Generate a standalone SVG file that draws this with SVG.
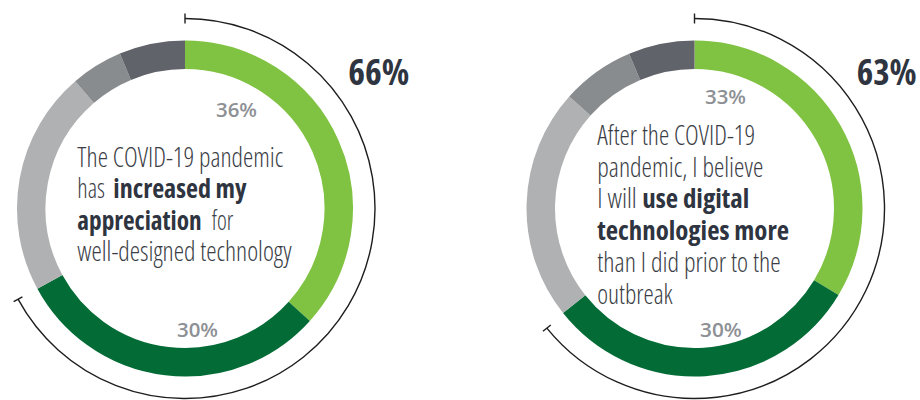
<svg xmlns="http://www.w3.org/2000/svg" width="920" height="400" viewBox="0 0 920 400">
<style>
.seg{fill:none;stroke-width:28.5}
.g1{stroke:#80c242}.g2{stroke:#036b35}.s1{stroke:#afb1b2}.s2{stroke:#898c8f}.s3{stroke:#60636a}
.br{fill:none;stroke:#1e1e1e;stroke-width:1.4}
.t{font-family:"Open Sans","Liberation Sans",sans-serif;font-size:27px;fill:#3b3e46;font-weight:300;font-stretch:condensed}
.b{font-weight:700;fill:#2e3440}
.p{font-family:"Open Sans","Liberation Sans",sans-serif;font-size:20px;font-weight:600;fill:#8d9094}
.big{font-family:"Open Sans","Liberation Sans",sans-serif;font-size:36px;font-weight:700;fill:#2f3540;font-stretch:condensed}
</style>
<rect width="920" height="400" fill="#ffffff"/>
<g id="donut-left">
<path class="seg g1" d="M185 54.75 A153.75 153.75 0 0 1 299.25 311.38"/>
<path class="seg g2" d="M299.25 311.38 A153.75 153.75 0 0 1 49.88 281.87"/>
<path class="seg s1" d="M49.88 281.87 A153.75 153.75 0 0 1 84.54 92.11"/>
<path class="seg s2" d="M84.54 92.11 A153.75 153.75 0 0 1 125.42 66.76"/>
<path class="seg s3" d="M125.42 66.76 A153.75 153.75 0 0 1 185 54.75"/>
<text class="p" x="216" y="116.5" textLength="41" lengthAdjust="spacingAndGlyphs">36%</text>
<text class="p" x="177" y="336.5" textLength="41" lengthAdjust="spacingAndGlyphs">30%</text>
<text class="t"><tspan x="77.3" y="166.5" textLength="206" lengthAdjust="spacingAndGlyphs">The COVID-19 pandemic</tspan><tspan x="77.3" y="198" textLength="27.7" lengthAdjust="spacingAndGlyphs">has</tspan><tspan class="b" x="113.3" y="198" textLength="133.4" lengthAdjust="spacingAndGlyphs">increased my</tspan><tspan class="b" x="77.3" y="229.5" textLength="124.4" lengthAdjust="spacingAndGlyphs">appreciation</tspan><tspan x="211.7" y="229.5" textLength="21.6" lengthAdjust="spacingAndGlyphs">for</tspan><tspan x="77.3" y="261" textLength="214.4" lengthAdjust="spacingAndGlyphs">well-designed technology</tspan></text>
</g>
<g id="label-left">
<text class="big" x="348.3" y="85" textLength="61" lengthAdjust="spacingAndGlyphs">66%</text>
</g>
<g id="donut-right">
<path class="seg g1" d="M694.5 54.75 A153.75 153.75 0 0 1 826.29 287.69"/>
<path class="seg g2" d="M826.29 287.69 A153.75 153.75 0 0 1 574.18 304.21"/>
<path class="seg s1" d="M574.18 304.21 A153.75 153.75 0 0 1 579.88 106.03"/>
<path class="seg s2" d="M579.88 106.03 A153.75 153.75 0 0 1 634.67 66.87"/>
<path class="seg s3" d="M634.67 66.87 A153.75 153.75 0 0 1 694.5 54.75"/>
<text class="p" x="705" y="104" textLength="41" lengthAdjust="spacingAndGlyphs">33%</text>
<text class="p" x="700" y="336.5" textLength="41.7" lengthAdjust="spacingAndGlyphs">30%</text>
<text class="t"><tspan x="597.3" y="145" textLength="157.7" lengthAdjust="spacingAndGlyphs">After the COVID-19</tspan><tspan x="597.3" y="176.7" textLength="166" lengthAdjust="spacingAndGlyphs">pandemic, I believe</tspan><tspan x="597.3" y="208.4" textLength="39.4" lengthAdjust="spacingAndGlyphs">I will</tspan><tspan class="b" x="642.3" y="208.4" textLength="107" lengthAdjust="spacingAndGlyphs">use digital</tspan><tspan class="b" x="597.3" y="240.1" textLength="191.7" lengthAdjust="spacingAndGlyphs">technologies more</tspan><tspan x="597.3" y="271.8" textLength="183.4" lengthAdjust="spacingAndGlyphs">than I did prior to the</tspan><tspan x="597.3" y="303.5" textLength="75.4" lengthAdjust="spacingAndGlyphs">outbreak</tspan></text>
</g>
<g id="label-right">
<text class="big" x="856.7" y="85" textLength="60" lengthAdjust="spacingAndGlyphs">63%</text>
</g>
<g id="connectors">
<path class="br" d="M185 18.5 A190 190 0 1 1 18.03 299.17"/>
<line class="br" x1="185" y1="13.5" x2="185" y2="23.5"/>
<line class="br" x1="22.42" y1="296.78" x2="13.63" y2="301.55"/>
<path class="br" d="M694.5 18.5 A190 190 0 1 1 546.85 328.07"/>
<line class="br" x1="694.5" y1="13.5" x2="694.5" y2="23.5"/>
<line class="br" x1="550.74" y1="324.92" x2="542.97" y2="331.21"/>
</g>
</svg>
